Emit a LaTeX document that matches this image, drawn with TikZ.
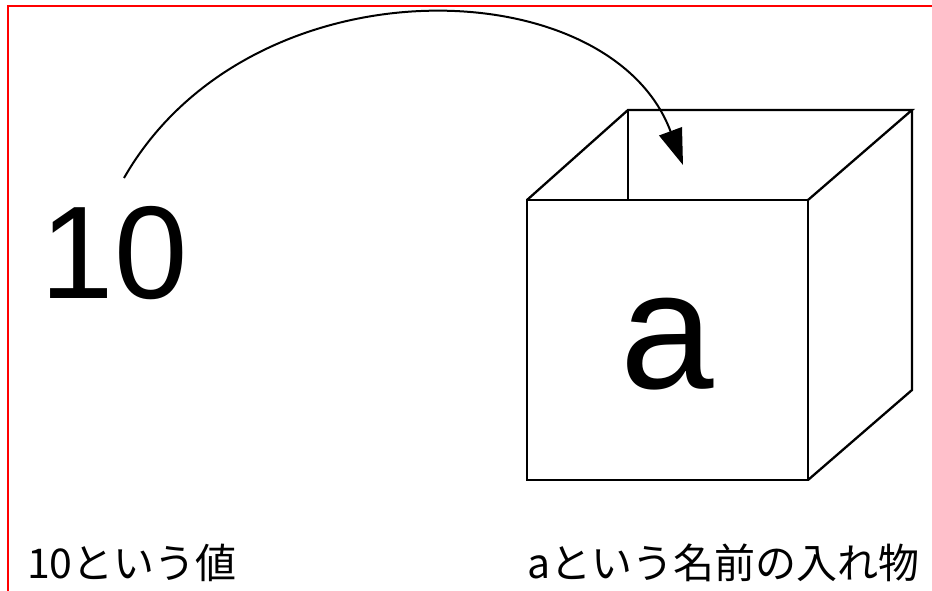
\documentclass[tikz,border=0pt]{standalone}
\usepackage{fontspec}
\setmainfont{Liberation Sans}
\newfontfamily\jpfont{Noto Sans CJK JP}
\usetikzlibrary{arrows.meta}
\begin{document}
\begin{tikzpicture}[x=1pt,y=-1pt,
  edge/.style={line width=2.3pt,line join=miter},
  frame/.style={red,line width=1.5pt},
  label/.style={inner sep=0pt,anchor=base west,font=\jpfont\fontsize{41}{41}\selectfont},
  flow/.style={line width=2pt,-{Triangle[length=36pt,width=24pt]}}]
\useasboundingbox (0,0) rectangle (932,591);
% outer frame (top and left sides)
\draw[frame] (932,6) -- (8,6) -- (8,591);
% the box: front face, top face, right face
\coordinate (fbl) at (527,480);
\coordinate (ftl) at (527,200);
\coordinate (ftr) at (808,200);
\coordinate (fbr) at (808,480);
\coordinate (btl) at (628,110);
\coordinate (btr) at (912,110);
\coordinate (bbr) at (912,390);
\draw[edge] (fbl) rectangle (ftr);
\draw[edge] (ftl) -- (btl) -- (btr) -- (ftr);
\draw[edge] (btr) -- (bbr) -- (fbr);
\draw[edge] (btl) -- (628,200);
% value and box name
\node[inner sep=0pt,anchor=base west,font=\fontsize{132}{132}\selectfont] (val) at (40.6,298) {10};
\node[inner sep=0pt,anchor=base west,font=\fontsize{168}{168}\selectfont] (box) at (620,388) {a};
% the value goes into the box
\coordinate (arcstart) at (124,178);
\coordinate (arcend) at (683,165);
\draw[flow] (arcstart) .. controls (250,-42) and (610,-32) .. (arcend);
% captions
\node[label] (cap1) at (27,578) {10という値};
\node[label] (cap2) at (527,578) {aという名前の入れ物};
\end{tikzpicture}
\end{document}
